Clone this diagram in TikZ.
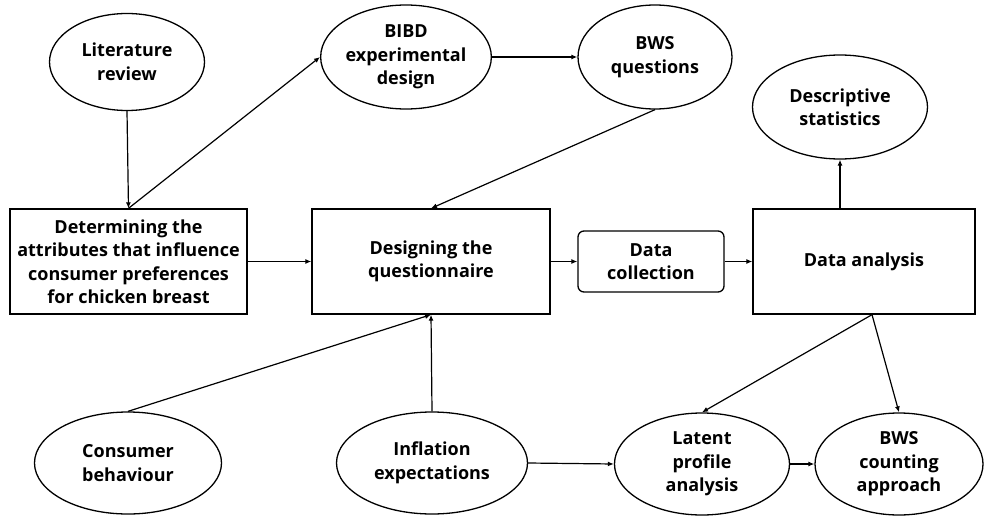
\documentclass[tikz,border=0pt]{standalone}
\usepackage{fontspec}
\setmainfont{Open Sans}
\usetikzlibrary{shapes.geometric,arrows.meta}

\begin{document}
\begin{tikzpicture}[
    x=1pt, y=-1pt,
    every node/.style={font=\bfseries\fontsize{18}{23.5}\selectfont, align=center, inner sep=0pt},
    oval/.style={draw, ellipse, line width=1.3pt},
    stepbox/.style={draw, rectangle, line width=1.3pt},
    link/.style={line width=1.2pt, -{Latex[length=6pt,width=5pt]}}
]
\useasboundingbox (0,0) rectangle (984,516);

% top row
\node[oval, minimum width=155, minimum height=97] (lit) at (127,62) {Literature\\review};
\node[oval, minimum width=162, minimum height=104] (bibd) at (406,57) {BIBD\\experimental\\design};
\node[oval, minimum width=154, minimum height=104] (bwsq) at (655,57) {BWS\\questions};
\node[oval, minimum width=175, minimum height=104] (desc) at (840,107) {Descriptive\\statistics};

% middle row
\node[stepbox, minimum width=237, minimum height=105] (attr) at (128.5,261.5) {Determining the\\attributes that influence\\consumer preferences\\for chicken breast};
\node[stepbox, minimum width=238, minimum height=105] (quest) at (431,261.5) {Designing the\\questionnaire};
\node[stepbox, rounded corners=6pt, minimum width=146, minimum height=61] (coll) at (651,261.5) {Data\\collection};
\node[stepbox, minimum width=222, minimum height=105] (anal) at (864,261.5) {Data analysis};

% bottom row
\node[oval, minimum width=187, minimum height=102] (cons) at (128,463) {Consumer\\behaviour};
\node[oval, minimum width=191, minimum height=102] (infl) at (432,463) {Inflation\\expectations};
\node[oval, minimum width=175, minimum height=102] (lpa) at (702,464) {Latent\\profile\\analysis};
\node[oval, minimum width=168, minimum height=102] (bwsc) at (899,464) {BWS\\counting\\approach};

\coordinate (split) at ([xshift=8]anal.south);

\draw[link] (lit.south) -- (attr.north);
\draw[link] (attr.north) -- (bibd.west);
\draw[link] (bibd.east) -- (bwsq.west);
\draw[link] (bwsq.south) -- (quest.north);
\draw[link] (attr.east) -- (quest.west);
\draw[link] (quest.east) -- (coll.west);
\draw[link] (coll.east) -- (anal.west);
\draw[link] (desc.south |- anal.north) -- (desc.south);
\draw[link] (cons.north) -- (quest.south);
\draw[link] (infl.north) -- (quest.south);
\draw[link] (split) -- (lpa.north);
\draw[link] (split) -- (bwsc.north);
\draw[link] (infl.east) -- (lpa.west);
\draw[link] (lpa.east) -- (bwsc.west);

\end{tikzpicture}
\end{document}
